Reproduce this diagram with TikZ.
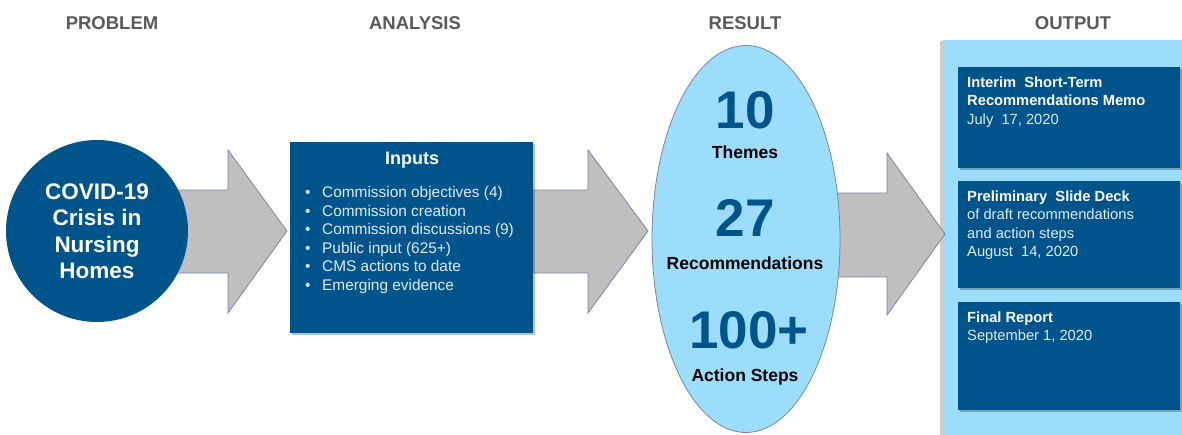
\documentclass[tikz,border=0pt]{standalone}
\usepackage{fontspec}
\setmainfont{Liberation Sans}
\usetikzlibrary{shadows,shapes.geometric}
\definecolor{dblue}{RGB}{0,84,140}
\definecolor{lblue}{RGB}{155,221,251}
\definecolor{agray}{RGB}{191,191,191}
\definecolor{aedge}{RGB}{120,135,160}
\definecolor{hgray}{RGB}{89,89,89}
\definecolor{ltext}{RGB}{225,235,242}
\begin{document}
\begin{tikzpicture}[x=1pt,y=-1pt,
  hdr/.style={font=\fontsize{18.5}{22}\selectfont\bfseries, text=hgray, anchor=base, inner sep=0},
  blockarrow/.style={fill=agray, draw=aedge, line width=0.8pt, line join=miter},
  darkbox/.style={fill=dblue, inner sep=0, anchor=north west,
    drop shadow={shadow xshift=2pt, shadow yshift=-2pt, fill=black, opacity=0.25}},
  bignum/.style={font=\fontsize{53}{60}\selectfont\bfseries, text=dblue, inner sep=0},
  numlabel/.style={font=\fontsize{17.5}{20}\selectfont\bfseries, text=black, inner sep=0},
  outtext/.style={font=\fontsize{14.7}{18.5}\selectfont, text=ltext, align=left, anchor=north west, inner sep=0},
]
\useasboundingbox (0,0) rectangle (1182,434);

% headers
\node[hdr] (hp) at (112,29) {PROBLEM};
\node[hdr] (ha) at (415,29) {ANALYSIS};
\node[hdr] (hr) at (745,29) {RESULT};
\node[hdr] (ho) at (1073,29) {OUTPUT};

% output panel
\node[fill=lblue, inner sep=0, minimum width=240, minimum height=395, anchor=north west,
      drop shadow={shadow xshift=-3pt, shadow yshift=-1pt, fill=black, opacity=0.2}] (outp) at (943,40) {};

% block arrows
\draw[blockarrow] (170,190) -- (228,190) -- (228,150) -- (287,231) -- (228,313) -- (228,273) -- (170,273) -- cycle;
\draw[blockarrow] (520,190) -- (588,190) -- (588,150) -- (648,231) -- (588,313) -- (588,273) -- (520,273) -- cycle;
\draw[blockarrow] (820,193) -- (887,193) -- (887,153) -- (945,234) -- (887,315) -- (887,277) -- (820,277) -- cycle;

% problem circle
\node[circle, fill=dblue, minimum size=182, inner sep=0, text=white, align=center,
      font=\fontsize{22.5}{26.5}\selectfont\bfseries] (prob) at (97,231) {COVID-19\\Crisis in\\Nursing\\Homes};

% inputs box
\node[darkbox, minimum width=243, minimum height=191] (inp) at (290,142) {};
\node[font=\fontsize{18}{22}\selectfont\bfseries, text=white, inner sep=0] (inpt) at (412,160) {Inputs};
\node[font=\fontsize{15.4}{18.5}\selectfont, text=ltext, align=left, anchor=north west, inner sep=0] (inpl) at (304,186.5)
 {\makebox[18pt][l]{\hspace{1pt}\textbullet}Commission objectives (4)\\
  \makebox[18pt][l]{\hspace{1pt}\textbullet}Commission creation\\
  \makebox[18pt][l]{\hspace{1pt}\textbullet}Commission discussions (9)\\
  \makebox[18pt][l]{\hspace{1pt}\textbullet}Public input (625+)\\
  \makebox[18pt][l]{\hspace{1pt}\textbullet}CMS actions to date\\
  \makebox[18pt][l]{\hspace{1pt}\textbullet}Emerging evidence};

% result ellipse
\node[ellipse, fill=lblue, draw=aedge, line width=0.8pt, minimum width=188, minimum height=387, inner sep=0] (res) at (746,239) {};
\node[bignum] (n10) at (745,110) {10};
\node[numlabel] (l10) at (745,152) {Themes};
\node[bignum] (n27) at (745,218) {27};
\node[numlabel] (l27) at (745,263) {Recommendations};
\node[bignum] (n100) at (749,330) {100+};
\node[numlabel] (l100) at (745,377) {Action Steps};

% output boxes
\node[darkbox, minimum width=222, minimum height=101] (o1) at (958,67) {};
\node[darkbox, minimum width=222, minimum height=107] (o2) at (958,181) {};
\node[darkbox, minimum width=222, minimum height=108] (o3) at (958,302) {};
\node[outtext] (t1) at (967,76.5) {\textbf{\color{white}Interim\ \ Short-Term}\\\textbf{\color{white}Recommendations Memo}\\July\ \ 17, 2020};
\node[outtext] (t2) at (967,190.5) {\textbf{\color{white}Preliminary\ \ Slide Deck}\\of draft recommendations\\and action steps\\August\ \ 14, 2020};
\node[outtext] (t3) at (967,311.5) {\textbf{\color{white}Final Report}\\September 1, 2020};
\end{tikzpicture}
\end{document}
